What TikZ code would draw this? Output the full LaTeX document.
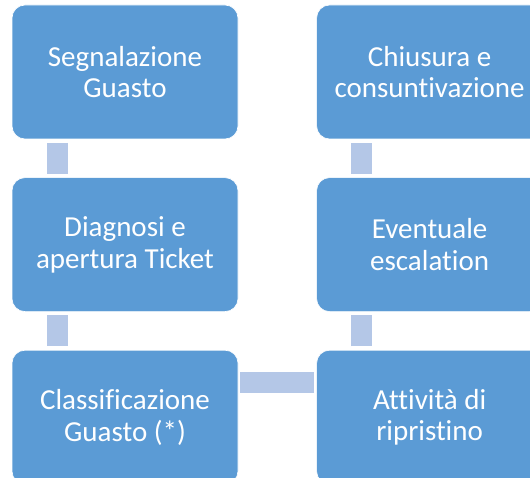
\documentclass[tikz,border=0pt]{standalone}
\usepackage{fontspec}
\setmainfont{Carlito}[Ligatures={NoCommon}]
\usetikzlibrary{positioning}

\definecolor{stepblue}{HTML}{5B9BD5}
\definecolor{linkblue}{HTML}{B4C7E7}

\begin{document}
\begin{tikzpicture}[x=1pt,y=-1pt,node distance={38pt and 78pt},
  stepbox/.style={draw=white,line width=0.6pt,fill=stepblue,rounded corners=13pt,
    minimum width=226pt,minimum height=134pt,inner sep=0pt,align=center,
    text=white,font=\fontsize{29}{31.7}\selectfont},
  link/.style={draw=linkblue,line width=21pt}]
\clip (0,0) rectangle (530,478);
\node[stepbox] (seg) at (125,72) {Segnalazione\\Guasto};
\node[stepbox] (diag) [below=of seg] {Diagnosi e\\apertura Ticket};
\node[stepbox] (class) [below=of diag] {Classificazione\\Guasto (*)};
\node[stepbox] (chius) [right=of seg] {Chiusura e\\consuntivazione};
\node[stepbox] (escal) [below=of chius] {Eventuale\\escalation};
\node[stepbox] (ripr) [below=of escal] {Attività di\\ripristino};

\draw[link,shorten <=3.5pt,shorten >=3.5pt] ([xshift=45.5pt]seg.south west) -- ([xshift=45.5pt]diag.north west);
\draw[link,shorten <=3.5pt,shorten >=3.5pt] ([xshift=45.5pt]diag.south west) -- ([xshift=45.5pt]class.north west);
\draw[link,shorten <=2pt,shorten >=2pt] ([yshift=-32.5pt]class.north east) -- ([yshift=-32.5pt]ripr.north west);
\draw[link,shorten <=3.5pt,shorten >=3.5pt] ([xshift=45.5pt]ripr.north west) -- ([xshift=45.5pt]escal.south west);
\draw[link,shorten <=3.5pt,shorten >=3.5pt] ([xshift=45.5pt]escal.north west) -- ([xshift=45.5pt]chius.south west);

\end{tikzpicture}
\end{document}
